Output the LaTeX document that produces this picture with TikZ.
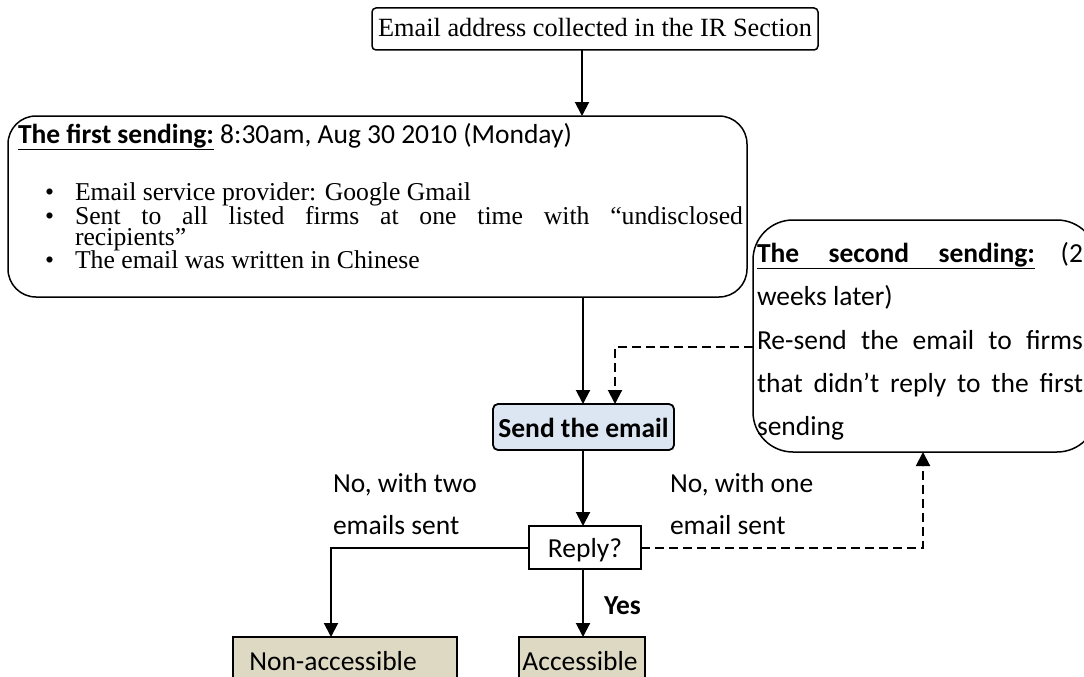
\documentclass[tikz,border=0pt]{standalone}
\usepackage{fontspec}
\setmainfont{Liberation Serif}
\newfontfamily\calfont{Carlito}
\usetikzlibrary{arrows.meta}
\definecolor{sendfill}{HTML}{DCE6F2}
\definecolor{tanfill}{HTML}{DDD9C3}
\newcommand\tmsfont{\fontsize{26.3}{20}\selectfont}
\newcommand\tmsbul{\fontsize{25.7}{20}\selectfont}
\newcommand\calsize{\calfont\fontsize{27.5}{33}\selectfont}
\begin{document}
\begin{tikzpicture}[x=1pt,y=-1pt,
  box/.style={draw, line width=1.5pt, inner sep=0pt, outer sep=0pt},
  arr/.style={line width=2pt, -{Triangle[width=14pt,length=14pt]}},
  darr/.style={arr, dash pattern=on 9pt off 5pt},
  txt/.style={anchor=base west, inner sep=0pt, outer sep=0pt},
  ctxt/.style={anchor=base, inner sep=0pt, outer sep=0pt}]
\useasboundingbox (0,0) rectangle (1084,677);
\clip (0,0) rectangle (1084,677);
% boxes
\node[box, rounded corners=4pt, minimum width=446pt, minimum height=42pt] (top) at (595,29) {};
\node[box, rounded corners=28pt, minimum width=739pt, minimum height=181pt] (first) at (377.5,206.5) {};
\node[box, rounded corners=40pt, minimum width=344pt, minimum height=232pt] (second) at (925,336) {};
\node[box, line width=1.8pt, fill=sendfill, rounded corners=5pt, minimum width=181pt, minimum height=46pt] (send) at (583.5,427) {};
\node[box, line width=1.8pt, minimum width=112pt, minimum height=43pt] (reply) at (585,547.5) {};
\node[box, line width=1.8pt, fill=tanfill, minimum width=224pt, minimum height=80pt] (nonacc) at (345,677) {};
\node[box, line width=1.8pt, fill=tanfill, minimum width=126pt, minimum height=80pt] (acc) at (582,677) {};
% texts
\node[ctxt] (toptext) at (595,37) {\tmsfont Email address collected in the IR Section};
\node[txt] (f1) at (18,143) {\calsize\underline{\textbf{The first sending:}} 8:30am, Aug 30 2010 (Monday)};
\node[txt] (bu1) at (45,200) {\tmsbul\textbullet};
\node[txt] (bu2) at (45,224) {\tmsbul\textbullet};
\node[txt] (bu3) at (45,268) {\tmsbul\textbullet};
\node[txt] (l1) at (75,200) {\tmsbul Email service provider: Google Gmail};
\node[txt] (l2) at (75,224) {\tmsbul\makebox[668pt][s]{Sent to all listed firms at one time with “undisclosed}};
\node[txt] (l3) at (75,245) {\tmsbul recipients”};
\node[txt] (l4) at (75,268) {\tmsbul The email was written in Chinese};
\node[txt] (s1) at (757,262) {\calsize\hbox to 326pt{\underline{\hbox to 278pt{\textbf{The}\hfill\textbf{second}\hfill\textbf{sending:}}}\hfill(2}};
\node[txt] (s2) at (757,305) {\calsize weeks later)};
\node[txt] (s3) at (757,349) {\calsize\makebox[326pt][s]{Re-send the email to firms}};
\node[txt] (s4) at (757,392) {\calsize\makebox[326pt][s]{that didn’t reply to the first}};
\node[txt] (s5) at (757,435) {\calsize sending};
\node[ctxt] (sendtext) at (583.5,437) {\calsize\bfseries Send the email};
\node[ctxt] (replytext) at (585,557) {\calsize Reply?};
\node[ctxt] (nonacctext) at (333,670) {\calsize Non-accessible};
\node[ctxt] (acctext) at (580,670) {\calsize Accessible};
\node[txt] (no2a) at (333,492) {\calsize No, with two};
\node[txt] (no2b) at (333,534) {\calsize emails sent};
\node[txt] (no1a) at (670,492) {\calsize No, with one};
\node[txt] (no1b) at (670,534) {\calsize email sent};
\node[txt] (yes) at (604,614) {\calsize\bfseries Yes};
% connectors
\coordinate (tx) at (582,0);
\coordinate (ax) at (583,0);
\coordinate (nx) at (331,0);
\coordinate (dx) at (615,347);
\coordinate (rx) at (923,0);
\draw[arr] (tx |- top.south) -- (tx |- first.north);
\draw[arr] (ax |- first.south) -- (ax |- send.north);
\draw[arr] (ax |- send.south) -- (ax |- reply.north);
\draw[arr] (ax |- reply.south) -- (ax |- acc.north);
\draw[arr] (reply.west) -- (nx |- reply.west) -- (nx |- nonacc.north);
\draw[darr] (second.west |- dx) -- (dx) -- (dx |- send.north);
\draw[darr] (reply.east) -- (rx |- reply.east) -- (rx |- second.south);
\end{tikzpicture}
\end{document}
